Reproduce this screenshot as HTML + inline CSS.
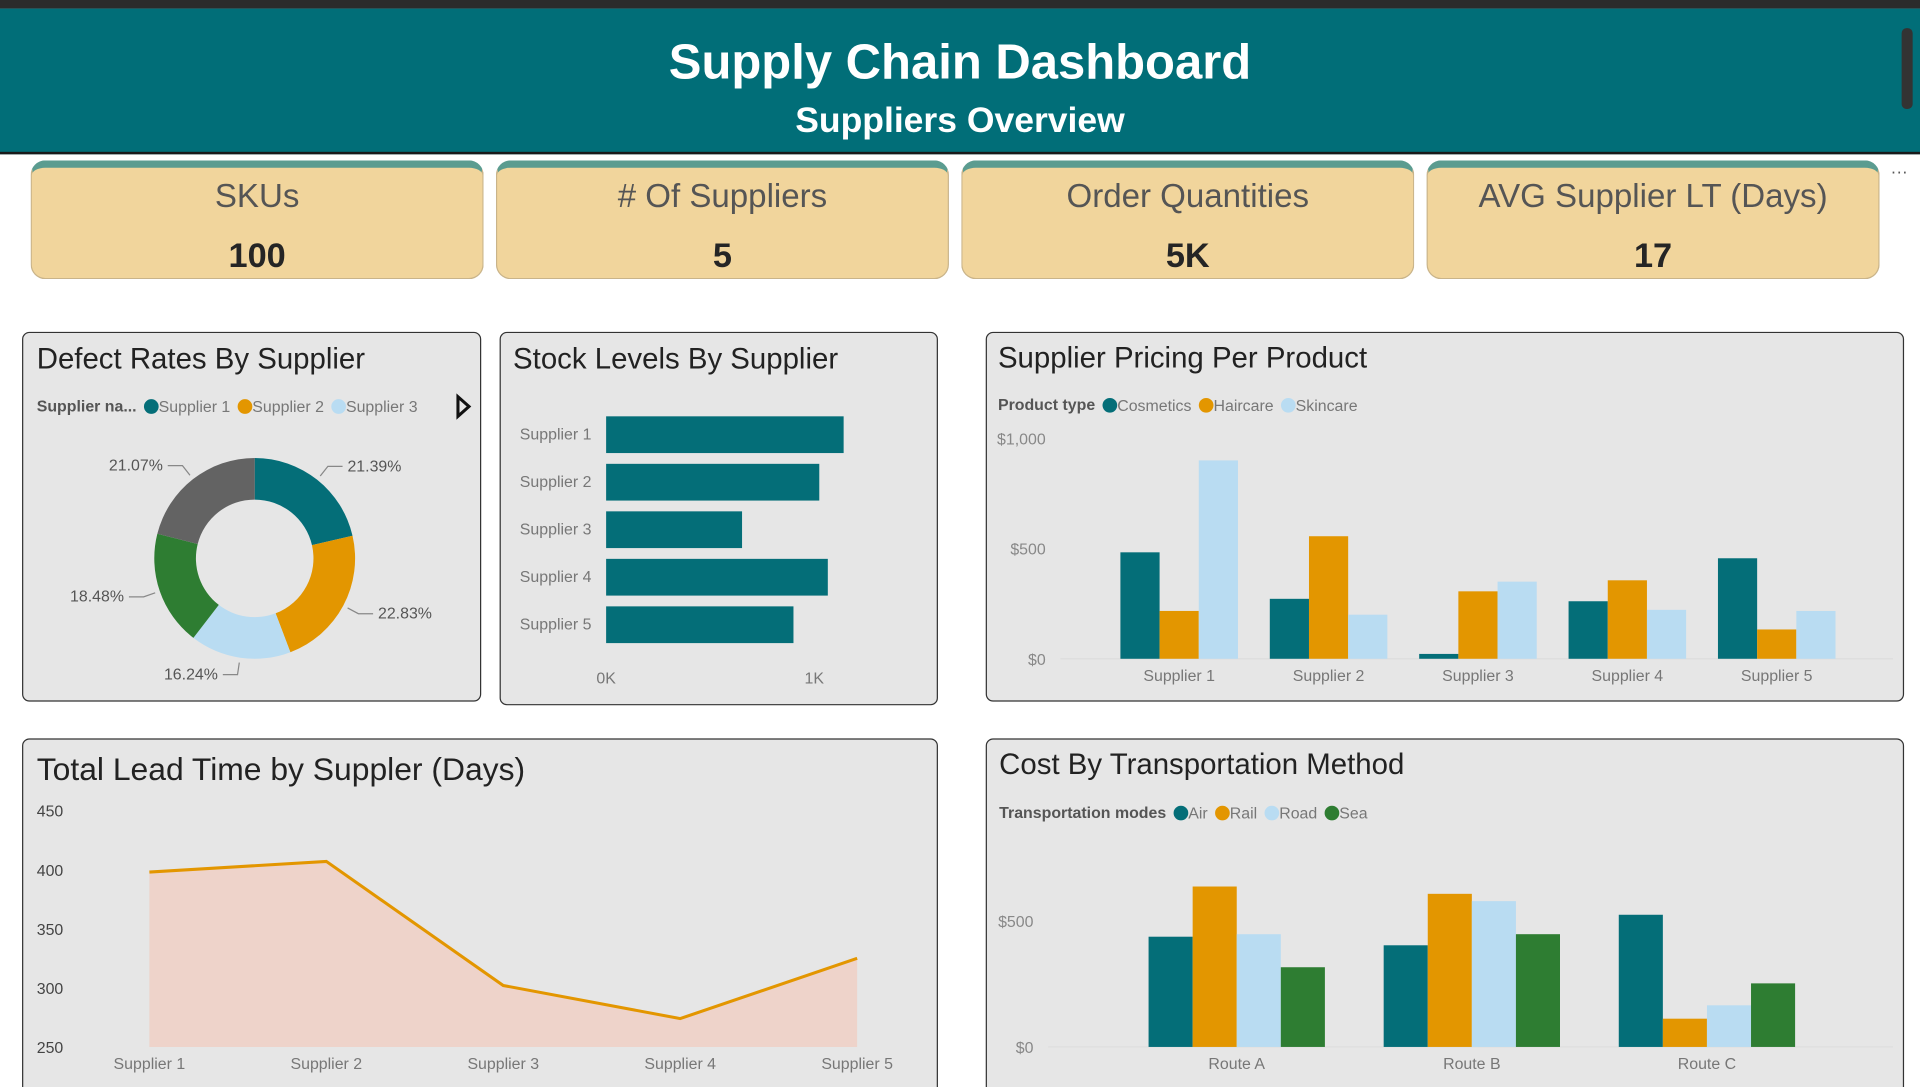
<!DOCTYPE html>
<html><head><meta charset="utf-8">
<style>
html,body{margin:0;padding:0;width:1920px;height:1087px;overflow:hidden;background:#fff;font-family:"Liberation Sans",sans-serif;}
#wrap{position:absolute;left:0;top:0;width:1568px;height:888px;transform:scale(1.22449);transform-origin:0 0;background:#fff;overflow:hidden;}
.abs{position:absolute;}
.card{position:absolute;top:131px;width:370px;height:97px;background:#f1d59c;border:1px solid #c9b48a;border-radius:12px;box-sizing:border-box;border-top:6px solid #5b9c90;text-align:center;}
.card .l{position:absolute;left:0;right:0;top:8px;font-size:27px;color:#555;}
.card .v{position:absolute;left:0;right:0;top:56px;font-size:28px;font-weight:bold;color:#252525;}
.panel{position:absolute;background:#e6e6e6;border:1.5px solid #333;border-radius:6px;box-sizing:border-box;overflow:hidden;}
.title{position:absolute;font-size:24px;color:#222;white-space:nowrap;}
svg text{font-family:"Liberation Sans",sans-serif;}
</style></head><body>
<div id="wrap">
<div class="abs" style="left:0;top:0;width:1568px;height:7px;background:#2b2b2b"></div>
<div class="abs" style="left:0;top:7px;width:1568px;height:117px;background:#016e78;border-bottom:2px solid #1a1a1a">
  <div class="abs" style="left:0;right:0;top:22px;text-align:center;font-size:40px;font-weight:bold;color:#fff">Supply Chain Dashboard</div>
  <div class="abs" style="left:0;right:0;top:76px;text-align:center;font-size:29px;font-weight:bold;color:#fff">Suppliers Overview</div>
  <div class="abs" style="left:1553px;top:16px;width:9px;height:66px;background:#333;border-radius:4px"></div>
</div>
<div class="card" style="left:25px"><div class="l">SKUs</div><div class="v">100</div></div>
<div class="card" style="left:405px"><div class="l"># Of Suppliers</div><div class="v">5</div></div>
<div class="card" style="left:785px"><div class="l">Order Quantities</div><div class="v">5K</div></div>
<div class="card" style="left:1165px"><div class="l">AVG Supplier LT (Days)</div><div class="v">17</div></div>
<div class="abs" style="left:1544px;top:132px;font-size:14px;color:#555">···</div>

<div class="panel" style="left:18px;top:271px;width:375px;height:302px">
 <div class="title" style="left:11px;top:8px">Defect Rates By Supplier</div>
 <svg id="donut" class="abs" style="left:0;top:0" width="375" height="302"></svg>
</div>
<div class="panel" style="left:408px;top:271px;width:358px;height:305px">
 <div class="title" style="left:10px;top:8px">Stock Levels By Supplier</div>
 <svg id="stock" class="abs" style="left:0;top:0" width="358" height="305"></svg>
</div>
<div class="panel" style="left:805px;top:271px;width:750px;height:302px">
 <div class="title" style="left:9px;top:7px">Supplier Pricing Per Product</div>
 <svg id="pricing" class="abs" style="left:0;top:0" width="750" height="302"></svg>
</div>
<div class="panel" style="left:18px;top:603px;width:748px;height:300px">
 <div class="title" style="left:11px;top:9px;font-size:26px">Total Lead Time by Suppler (Days)</div>
 <svg id="lead" class="abs" style="left:0;top:0" width="748" height="300"></svg>
</div>
<div class="panel" style="left:805px;top:603px;width:750px;height:300px">
 <div class="title" style="left:10px;top:7px">Cost By Transportation Method</div>
 <svg id="cost" class="abs" style="left:0;top:0" width="750" height="300"></svg>
</div>
</div>
<script>
const NS='http://www.w3.org/2000/svg';
const C={teal:'#046e78',orange:'#e39600',light:'#b9dcf2',green:'#2e7d32',gray:'#636363'};
function mk(p,t,a,txt){const e=document.createElementNS(NS,t);for(const k in a)e.setAttribute(k,a[k]);if(txt!==undefined)e.textContent=txt;p.appendChild(e);return e;}

// ---- data ----
const donutLabels=['Supplier 1','Supplier 2','Supplier 3','Supplier 4','Supplier 5'];
const donutValues=[21.39,22.83,16.24,18.48,21.07];
const stockCats=['Supplier 1','Supplier 2','Supplier 3','Supplier 4','Supplier 5'];
const stockValues=[1141,1024,653,1065,900];
const stockTicks=[0,1000];
const stockTickLabels=['0K','1K'];
const priceCats=['Supplier 1','Supplier 2','Supplier 3','Supplier 4','Supplier 5'];
const priceCosmetics=[483,272,22,261,456];
const priceHaircare=[217,556,306,356,133];
const priceSkincare=[900,200,350,222,217];
const priceTicks=[0,500,1000];
const priceTickLabels=['$0','$500','$1,000'];
const leadCats=['Supplier 1','Supplier 2','Supplier 3','Supplier 4','Supplier 5'];
const leadValues=[398,407,302,274,325];
const leadTicks=[250,300,350,400,450];
const costCats=['Route A','Route B','Route C'];
const costAir=[437,403,524];
const costRail=[636,607,112];
const costRoad=[447,578,165];
const costSea=[316,447,252];
const costTicks=[0,500];
const costTickLabels=['$0','$500'];

function legend(svg,x,y,title,items){
 let t=mk(svg,'text',{x:x,y:y+4,'font-size':13,fill:'#555','font-weight':'bold'},title);
 
 let cx=x+t.getComputedTextLength()+12;
 items.forEach(([n,c])=>{
  const g=mk(svg,'g',{});
  
  
  mk(g,'circle',{cx:cx,cy:y,r:6,fill:c});
  const tt=mk(g,'text',{x:cx+6,y:y+4.5,'font-size':13,fill:'#777'},n);
  cx+=6+tt.getComputedTextLength()+12;
 });
}

// donut
(function(){
 const s=document.getElementById('donut');
 legend(s,11,60,'Supplier na...',[['Supplier 1',C.teal],['Supplier 2',C.orange],['Supplier 3',C.light]]);
 const ar=mk(s,'path',{d:'M355 52 L364 60 L355 68 Z',fill:'none',stroke:'#111','stroke-width':2.5});
 
 const cols=[C.teal,C.orange,C.light,C.green,C.gray];
 const cx=189,cy=184,R=82,r=48;
 const tot=donutValues.reduce((a,b)=>a+b,0);let a0=0;
 donutValues.forEach((v,i)=>{
  const a1=a0+v/tot*2*Math.PI;
  const p=(a,rr)=>[cx+rr*Math.sin(a),cy-rr*Math.cos(a)];
  const [x1,y1]=p(a0,R),[x2,y2]=p(a1,R),[x3,y3]=p(a1,r),[x4,y4]=p(a0,r);
  const lg=(a1-a0)>Math.PI?1:0;
  const e=mk(s,'path',{d:`M${x1} ${y1}A${R} ${R} 0 ${lg} 1 ${x2} ${y2}L${x3} ${y3}A${r} ${r} 0 ${lg} 0 ${x4} ${y4}Z`,fill:cols[i]});
  
  const am=(a0+a1)/2;const [lx,ly]=p(am,R+4);const [ex,ey]=p(am,R+14);
  const right=Math.sin(am)>=0;const hx=ex+(right?12:-12);
  mk(s,'path',{d:`M${lx} ${ly}L${ex} ${ey}L${hx} ${ey}`,fill:'none',stroke:'#888','stroke-width':1});
  const t=mk(s,'text',{x:hx+(right?4:-4),y:ey+4,'font-size':13,fill:'#555','text-anchor':right?'start':'end'},v.toFixed(2)+'%');
  
  a0=a1;
 });
})();

// stock
(function(){
 const s=document.getElementById('stock');
 const x0=86,kx=170/1000;const X=v=>x0+v*kx;
 stockCats.forEach((c,i)=>{
  const cy=83+i*38.8;
  mk(s,'text',{x:74,y:cy+4,'font-size':13,fill:'#777','text-anchor':'end'},c);
  const b=mk(s,'rect',{x:X(0),y:cy-15,width:X(stockValues[i])-X(0),height:30,fill:C.teal});
  
 });
 stockTicks.forEach((t,i)=>mk(s,'text',{x:X(t),y:286,'font-size':13,fill:'#777','text-anchor':'middle'},stockTickLabels[i]));
})();

// pricing
(function(){
 const s=document.getElementById('pricing');
 legend(s,9,59,'Product type',[['Cosmetics',C.teal],['Haircare',C.orange],['Skincare',C.light]]);
 const y0=266,ky=180/1000;const Y=v=>y0-v*ky;
 priceTicks.forEach((t,i)=>mk(s,'text',{x:48,y:Y(t)+5,'font-size':13,fill:'#888','text-anchor':'end'},priceTickLabels[i]));
 mk(s,'line',{x1:60,x2:740,y1:y0,y2:y0,stroke:'#ddd'});
 const ser=[[priceCosmetics,C.teal],[priceHaircare,C.orange],[priceSkincare,C.light]];
 priceCats.forEach((c,i)=>{
  const gx=157+i*122;
  ser.forEach(([arr,col],j)=>{
   const b=mk(s,'rect',{x:gx-48+j*32,y:Y(arr[i]),width:32,height:y0-Y(arr[i]),fill:col});
   
  });
  mk(s,'text',{x:gx,y:284,'font-size':13,fill:'#777','text-anchor':'middle'},c);
 });
})();

// lead time
(function(){
 const s=document.getElementById('lead');
 const y0=251,ky=193/200;const Y=v=>y0-(v-250)*ky;const X=i=>103+i*144.5;
 leadTicks.forEach(t=>mk(s,'text',{x:11,y:Y(t)+5,'font-size':13,fill:'#444'},t));
 let pts=leadValues.map((v,i)=>X(i)+','+Y(v)).join(' ');
 const ar=mk(s,'polygon',{points:X(0)+','+y0+' '+pts+' '+X(leadValues.length-1)+','+y0,fill:'#eed3ca'});
 
 const ln=mk(s,'polyline',{points:pts,fill:'none',stroke:C.orange,'stroke-width':2.5});
 
 leadCats.forEach((c,i)=>mk(s,'text',{x:X(i),y:269,'font-size':13,fill:'#777','text-anchor':'middle'},c));
})();

// cost
(function(){
 const s=document.getElementById('cost');
 legend(s,10,60,'Transportation modes',[['Air',C.teal],['Rail',C.orange],['Road',C.light],['Sea',C.green]]);
 const y0=251,ky=103/500;const Y=v=>y0-v*ky;
 costTicks.forEach((t,i)=>mk(s,'text',{x:38,y:Y(t)+5,'font-size':13,fill:'#888','text-anchor':'end'},costTickLabels[i]));
 mk(s,'line',{x1:50,x2:740,y1:y0,y2:y0,stroke:'#ddd'});
 const ser=[[costAir,C.teal],[costRail,C.orange],[costRoad,C.light],[costSea,C.green]];
 costCats.forEach((c,i)=>{
  const gx=204+i*192;
  ser.forEach(([arr,col],j)=>{
   const b=mk(s,'rect',{x:gx-72+j*36,y:Y(arr[i]),width:36,height:y0-Y(arr[i]),fill:col});
   
  });
  mk(s,'text',{x:gx,y:269,'font-size':13,fill:'#777','text-anchor':'middle'},c);
 });
})();
</script>
</body></html>
